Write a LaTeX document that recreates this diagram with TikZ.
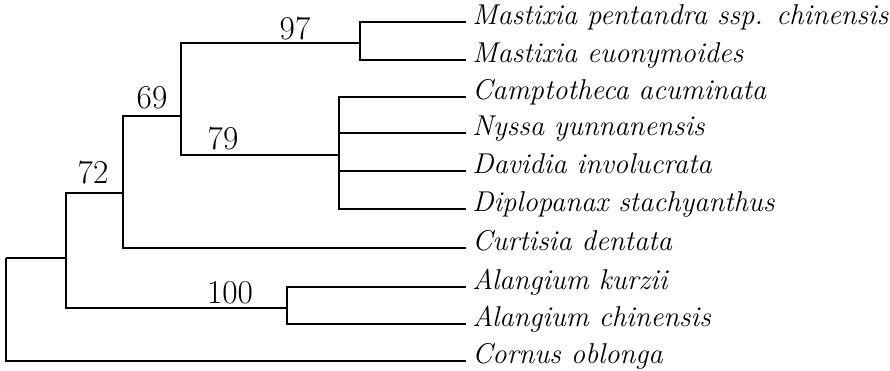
\documentclass[tikz,border=0pt]{standalone}
\usepackage{tikz}

\begin{document}
\begin{tikzpicture}[x=0.75pt, y=-0.75pt, line width=1.6pt,
  leaf/.style={anchor=mid west, inner ysep=0pt, inner xsep=4pt, font=\fontsize{21.5}{21.5}\selectfont\itshape},
  support/.style={inner sep=0pt, font=\fontsize{25}{25}\selectfont}]
  \useasboundingbox (0,0) rectangle (890,371);
  % leaves
  \node[leaf] (l1) at (466, 22) {Mastixia pentandra ssp. chinensis};
  \node[leaf] (l2) at (466, 60) {Mastixia euonymoides};
  \node[leaf] (l3) at (466, 97) {Camptotheca acuminata};
  \node[leaf] (l4) at (466, 133) {Nyssa yunnanensis};
  \node[leaf] (l5) at (466, 171) {Davidia involucrata};
  \node[leaf] (l6) at (466, 209) {Diplopanax stachyanthus};
  \node[leaf] (l7) at (466, 248) {Curtisia dentata};
  \node[leaf] (l8) at (466, 287) {Alangium kurzii};
  \node[leaf] (l9) at (466, 324) {Alangium chinensis};
  \node[leaf] (l10) at (466, 361) {Cornus oblonga};
  % internal nodes
  \coordinate (n97) at (360, 43);
  \coordinate (n79) at (339, 155);
  \coordinate (n69) at (181, 116);
  \coordinate (n72) at (123, 193);
  \coordinate (n100) at (287, 308);
  \coordinate (nA) at (66, 258);
  \coordinate (root) at (6, 258);
  \draw
    (n97) |- (l1.mid west)
    (n97) |- (l2.mid west)
    (n79) |- (l3.mid west)
    (n79) |- (l4.mid west)
    (n79) |- (l5.mid west)
    (n79) |- (l6.mid west)
    (n69) |- (n97)
    (n69) |- (n79)
    (n72) |- (n69)
    (n72) |- (l7.mid west)
    (n100) |- (l8.mid west)
    (n100) |- (l9.mid west)
    (nA) |- (n72)
    (nA) |- (n100)
    (root) |- (nA)
    (root) |- (l10.mid west);
  % support values
  \node[support] (s97) at (295, 28) {97};
  \node[support] (s69) at (152, 98) {69};
  \node[support] (s79) at (223, 138) {79};
  \node[support] (s72) at (93, 172) {72};
  \node[support] (s100) at (230, 293) {100};
\end{tikzpicture}
\end{document}
